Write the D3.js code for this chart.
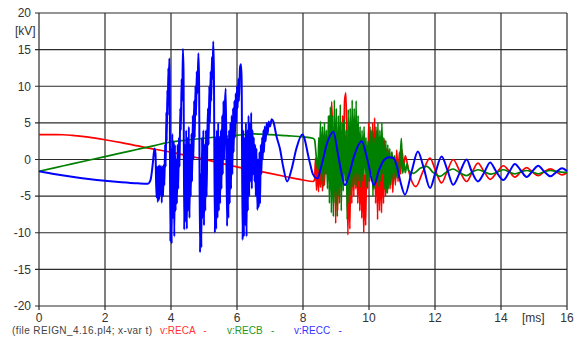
<!DOCTYPE html>
<html>
<head>
<meta charset="utf-8">
<script src="https://cdn.jsdelivr.net/npm/d3@7"></script>
<style>
  body { margin: 0; background: #fff; }
  svg { display: block; font-family: "Liberation Sans", Arial, sans-serif; }
</style>
</head>
<body>
<div id="chart"></div>
<script>
// axis ticks
const timeTicks = [0, 2, 4, 6, 8, 10, 12, 14, 16];
const voltTicks = [-20, -15, -10, -5, 0, 5, 10, 15, 20];

// v:RECA  [t ms, kV]
const reca = [
  [0, 3.4], [0.5, 3.4], [0.75, 3.38], [1, 3.3], [1.5, 3.05], [2, 2.7], [2.5, 2.3], [3, 1.85],
  [3.5, 1.4], [4, 1.0], [4.5, 0.5], [5, 0.05], [5.5, -0.5], [6, -1.0], [6.5, -1.45], [7, -1.9],
  [7.5, -2.35], [8, -2.8], [8.3, -3.0], [8.35, -2.8],
  [8.38, 0.2], [8.41, -4.2], [8.44, -0.3], [8.47, -4.4], [8.5, 0], [8.53, -3.8], [8.56, 0.3],
  [8.59, -4.3], [8.62, -0.5], [8.65, -3.5], [8.68, 0.5], [8.71, -2], [8.74, 3], [8.77, -1],
  [8.8, 6], [8.83, 1], [8.87, 7.9], [8.9, 2], [8.93, -5], [8.96, 2], [8.99, -8.7], [9.02, 1],
  [9.05, -7], [9.08, 3], [9.11, -6], [9.14, 4], [9.17, -3], [9.2, 6], [9.23, 0], [9.26, 8],
  [9.3, 9.1], [9.33, 2], [9.36, -10.3], [9.39, 0], [9.42, -9.5], [9.45, 2], [9.48, -6], [9.51, 4],
  [9.54, -5], [9.57, 3], [9.6, -4], [9.63, 2], [9.66, -6], [9.69, 3], [9.72, -7], [9.75, 1],
  [9.78, -8], [9.81, 0], [9.84, -10], [9.87, -2], [9.9, -9], [9.93, 2], [9.96, -4], [9.99, 5],
  [10.02, -3], [10.05, 4], [10.08, -2], [10.11, 5], [10.14, -4], [10.17, 5.7], [10.2, -6],
  [10.23, 4], [10.26, -8.2], [10.29, 3], [10.32, -7], [10.35, 2.5], [10.38, -7.3], [10.41, 2],
  [10.44, -6], [10.47, 2.7], [10.5, -5], [10.53, 1.5], [10.56, -4.6], [10.6, 1.3], [10.64, -4],
  [10.68, 1], [10.72, -4.5], [10.76, 0.5], [10.8, -3.5], [10.84, 1.3], [10.88, -3], [10.92, 1],
  [10.96, -2], [11.0, 1.3], [11.05, -0.9], [11.1, 0.5], [11.2, -1.5], [11.3, -3.0], [11.42, -3.7],
  [11.62, -1.8], [11.85, 0.2], [12.02, -1.6], [12.2, -3.2], [12.37, -1.6], [12.55, 0], [12.75, -1.6],
  [12.96, -3.0], [13.12, -1.8], [13.3, -0.5], [13.48, -1.6], [13.67, -2.7], [13.87, -1.8],
  [14.07, -0.85], [14.25, -1.6], [14.42, -2.4], [14.6, -1.7], [14.78, -1.1], [14.95, -1.7],
  [15.13, -2.2], [15.3, -1.7], [15.5, -1.27], [15.68, -1.7], [15.85, -2.1], [16, -1.8]
];

// v:RECB
const recb = [
  [0, -1.6], [0.5, -1.1], [1, -0.6], [1.5, -0.1], [2, 0.4], [2.5, 0.9], [3, 1.4], [3.5, 1.9],
  [4, 2.4], [4.5, 2.65], [5, 2.9], [5.5, 3.1], [6, 3.3], [6.5, 3.5], [7, 3.4], [7.5, 3.25],
  [8, 3.1], [8.3, 2.9], [8.35, 2.7], [8.4, 0.5], [8.45, -1.5], [8.48, 3], [8.5, -2], [8.53, 5.2],
  [8.56, -3], [8.59, 4.5], [8.62, -3.7], [8.65, 5], [8.68, -2], [8.71, 4], [8.74, -4], [8.77, 6],
  [8.8, -6], [8.83, 7.2], [8.86, -7.3], [8.89, 6], [8.92, -7.8], [8.95, 8.1], [8.98, -6], [9.01, 7],
  [9.04, -7.8], [9.07, 6], [9.1, -5], [9.13, 7.5], [9.16, -7], [9.19, 5], [9.22, -4.3], [9.25, 5.4],
  [9.28, -3], [9.31, 4], [9.34, -8.2], [9.37, 6.8], [9.4, -6], [9.43, 7], [9.46, -5], [9.49, 8.1],
  [9.52, -3.8], [9.55, 7], [9.58, -3.5], [9.61, 8], [9.64, -3.8], [9.67, 6], [9.7, -3], [9.73, 4.5],
  [9.76, -3.8], [9.79, 4], [9.82, -3], [9.85, 4.5], [9.88, -2], [9.91, 3], [9.94, -3.8], [9.97, 2.5],
  [10.0, -3], [10.03, 4.5], [10.06, -2], [10.09, 4], [10.12, -5], [10.15, 3], [10.18, -4], [10.21, 4.5],
  [10.24, -3], [10.27, 5], [10.3, -3.7], [10.33, 4], [10.36, -3], [10.39, 5], [10.42, -2], [10.45, 3],
  [10.48, -4], [10.51, 2.6], [10.54, -4.6], [10.57, 2], [10.6, -4], [10.63, 1.5], [10.66, -3.5],
  [10.7, 1], [10.74, -3], [10.78, 0.5], [10.82, -2.5], [10.86, 0], [10.9, -2], [10.94, -0.5],
  [10.98, 2.9], [11.02, -1.9], [11.06, -0.5], [11.1, -1.8], [11.15, -0.6], [11.2, -1.5],
  [11.35, -1.9], [11.55, -1.2], [11.75, -0.95], [11.95, -1.8], [12.15, -2.3], [12.35, -1.7],
  [12.55, -1.3], [12.75, -1.8], [12.96, -2.2], [13.13, -1.7], [13.3, -1.4], [13.5, -1.7],
  [13.7, -2.0], [13.9, -1.7], [14.07, -1.4], [14.25, -1.7], [14.42, -1.95], [14.6, -1.7],
  [14.78, -1.5], [14.95, -1.7], [15.13, -1.95], [15.3, -1.7], [15.5, -1.5], [15.7, -1.65], [16, -1.8]
];

// v:RECC
const recc = [
  [0, -1.6], [0.5, -2.0], [1, -2.35], [1.5, -2.65], [2, -2.9], [2.5, -3.1], [3, -3.25], [3.3, -3.3],
  [3.38, -2.8], [3.45, -0.5], [3.5, 1.5], [3.53, 0.8], [3.56, -5.2], [3.58, -1.0], [3.6, -5.8],
  [3.62, -0.9], [3.64, -5.5], [3.66, -0.8], [3.68, -4.8], [3.7, -0.9], [3.72, -5.9], [3.74, -1.0],
  [3.76, -5.0], [3.78, -0.7], [3.8, -3.5], [3.82, 2], [3.84, -1], [3.86, 6.5], [3.87, 2.5],
  [3.89, 9.5], [3.9, 6], [3.92, 12.5], [3.93, 9], [3.95, 13.8], [3.96, 11],
  [3.98, -11.2], [4.0, 1.5], [4.02, -11.5], [4.04, 3.5], [4.06, -8], [4.08, 2.5], [4.1, -10.5],
  [4.12, 2], [4.14, -7], [4.16, 0], [4.18, -6], [4.2, 2], [4.22, -4],
  [4.24, 3], [4.26, -1], [4.28, 7], [4.3, 4], [4.32, 11], [4.34, 8], [4.36, 15.1], [4.38, 12],
  [4.4, -9.6], [4.42, 2], [4.44, -8.5], [4.46, 4], [4.48, -9.5], [4.5, 3], [4.52, -7], [4.54, 4.5],
  [4.56, -8], [4.58, 2], [4.6, -5], [4.62, 3.5], [4.64, -3],
  [4.66, 6], [4.68, 0], [4.7, 8], [4.72, 3], [4.74, 10], [4.76, 6], [4.78, 12], [4.8, 9],
  [4.83, 14.5], [4.85, 11],
  [4.88, -12.7], [4.9, -2], [4.92, -12], [4.94, 3], [4.96, -8], [4.98, 4], [5.0, -9], [5.02, 2],
  [5.04, -7], [5.06, 4], [5.08, -5], [5.1, 3],
  [5.12, 7], [5.14, 2], [5.16, 10], [5.18, 5], [5.2, 12], [5.22, 8], [5.24, 14], [5.26, 11],
  [5.28, 16.1], [5.3, 12],
  [5.33, -10], [5.35, 3], [5.37, -9.5], [5.39, 4], [5.41, -8], [5.43, 5], [5.45, -7], [5.47, 3],
  [5.49, -6], [5.51, 4], [5.53, -4], [5.55, 6], [5.57, -2], [5.59, 8], [5.61, 0], [5.63, 7],
  [5.66, 9.7],
  [5.7, -9.1], [5.72, 3], [5.74, -8], [5.76, 4], [5.78, -6], [5.8, 5], [5.82, -4], [5.84, 6],
  [5.86, -2], [5.88, 7],
  [5.9, 1], [5.92, 8], [5.94, 3], [5.96, 9], [5.98, 5], [6.0, 10], [6.02, 7], [6.04, 11],
  [6.06, 8], [6.09, 12.5], [6.12, 13], [6.14, 11],
  [6.17, -11], [6.19, 4], [6.21, -10.5], [6.23, 3], [6.25, -9], [6.27, 5], [6.29, -10.5], [6.31, 4],
  [6.33, -7], [6.35, 6], [6.37, -5], [6.39, 5], [6.41, -3], [6.43, 6.4], [6.45, -4], [6.47, 4],
  [6.49, -2], [6.51, 3],
  [6.53, -3], [6.55, 2], [6.57, -5], [6.59, 1.5], [6.62, -6.9], [6.64, 0], [6.66, -6.5], [6.68, 1],
  [6.7, -6], [6.72, 2], [6.74, -2], [6.76, 3], [6.78, 0], [6.8, 4], [6.82, 1], [6.84, 4.5],
  [6.87, 2.5], [6.9, 5], [6.93, 3.5], [6.96, 5.2], [7.0, 4.5], [7.05, 5.5], [7.1, 5.2],
  [7.2, 3.1], [7.3, 1.5], [7.4, -1.0], [7.52, -3.0], [7.65, -1.4], [7.8, 1.5], [7.98, 3.4],
  [8.2, -0.3], [8.3, -2.0], [8.44, -2.6], [8.55, -1.0], [8.75, 2.5], [8.92, 3.8], [9.05, 1.0],
  [9.15, -1.5], [9.27, -3.5], [9.4, -2.0], [9.55, 0.5], [9.78, 2.5], [9.95, 0.0], [10.15, -3.5],
  [10.3, -1.5], [10.45, -0.1], [10.6, 0.3], [10.74, 0.2], [10.85, -1.0], [10.95, -3.0],
  [11.09, -4.8], [11.3, -1.5], [11.48, 1.1], [11.65, -1.0], [11.85, -3.9], [12.0, -2.0],
  [12.2, 0.4], [12.38, -1.5], [12.55, -3.45], [12.75, -1.8], [12.96, 0.0], [13.1, -1.5],
  [13.3, -3.0], [13.5, -1.7], [13.67, -0.4], [13.85, -1.6], [14.07, -2.8], [14.25, -1.7],
  [14.42, -0.6], [14.6, -1.5], [14.78, -2.4], [14.95, -1.6], [15.13, -0.85], [15.3, -1.6],
  [15.5, -2.3], [15.68, -1.7], [15.85, -1.2], [16, -1.6]
];

const series = [
  { name: "v:RECA", values: reca, color: "#ff0000", legend: "#ff3333", width: 1.7 },
  { name: "v:RECB", values: recb, color: "#008000", legend: "#229922", width: 1.7 },
  { name: "v:RECC", values: recc, color: "#0000ff", legend: "#3333ff", width: 2 }
];

const totalWidth = 579;
const totalHeight = 338;
const margin = { top: 13, left: 39 };
const width = 528;
const height = 293;

const svg = d3.select("#chart")
  .append("svg")
  .attr("width", totalWidth)
  .attr("height", totalHeight);

const g = svg.append("g")
  .attr("transform", "translate(" + margin.left + "," + margin.top + ")");

const x = d3.scaleLinear().domain([0, 16]).range([0, width]);
const y = d3.scaleLinear().domain([-20, 20]).range([height, 0]);

// grid
g.append("g")
  .selectAll("line")
  .data(voltTicks)
  .enter()
  .append("line")
  .attr("x1", -4)
  .attr("x2", width)
  .attr("y1", d => y(d))
  .attr("y2", d => y(d))
  .attr("stroke", "#2b2b2b")
  .attr("stroke-width", 1.2);

g.append("g")
  .selectAll("line")
  .data(timeTicks)
  .enter()
  .append("line")
  .attr("x1", d => x(d))
  .attr("x2", d => x(d))
  .attr("y1", 0)
  .attr("y2", height + 4)
  .attr("stroke", "#2b2b2b")
  .attr("stroke-width", 1.2);

// tick labels
g.append("g")
  .selectAll("text")
  .data(voltTicks)
  .enter()
  .append("text")
  .attr("x", -8)
  .attr("y", d => y(d) + 4.3)
  .attr("text-anchor", "end")
  .attr("font-size", 12)
  .attr("fill", "#333")
  .text(d => d);

g.append("g")
  .selectAll("text")
  .data(timeTicks)
  .enter()
  .append("text")
  .attr("x", d => x(d))
  .attr("y", height + 16)
  .attr("text-anchor", "middle")
  .attr("font-size", 12)
  .attr("fill", "#333")
  .text(d => d);

svg.append("text")
  .attr("x", 15)
  .attr("y", 35)
  .attr("font-size", 12)
  .attr("fill", "#333")
  .text("[kV]");

svg.append("text")
  .attr("x", 522)
  .attr("y", 322)
  .attr("font-size", 12)
  .attr("fill", "#333")
  .text("[ms]");

// curves
const line = d3.line()
  .x(d => x(d[0]))
  .y(d => y(d[1]))
  .curve(d3.curveMonotoneX);

g.append("g")
  .selectAll("path")
  .data(series)
  .enter()
  .append("path")
  .attr("d", d => line(d.values))
  .attr("fill", "none")
  .attr("stroke", d => d.color)
  .attr("stroke-width", d => d.width)
  .attr("stroke-linejoin", "round");

// legend row
const legend = svg.append("g").attr("font-size", 10);
legend.append("text")
  .attr("x", 12)
  .attr("y", 334)
  .attr("fill", "#444")
  .attr("textLength", 140)
  .text("(file REIGN_4.16.pl4; x-var t)");

const legendX = [160, 227, 294];
legend.selectAll("text.item")
  .data(series)
  .enter()
  .append("text")
  .attr("class", "item")
  .attr("x", (d, i) => legendX[i])
  .attr("y", 334)
  .attr("fill", d => d.legend)
  .attr("xml:space", "preserve")
  .style("white-space", "pre")
  .text(d => d.name + "   -");
</script>
</body>
</html>
